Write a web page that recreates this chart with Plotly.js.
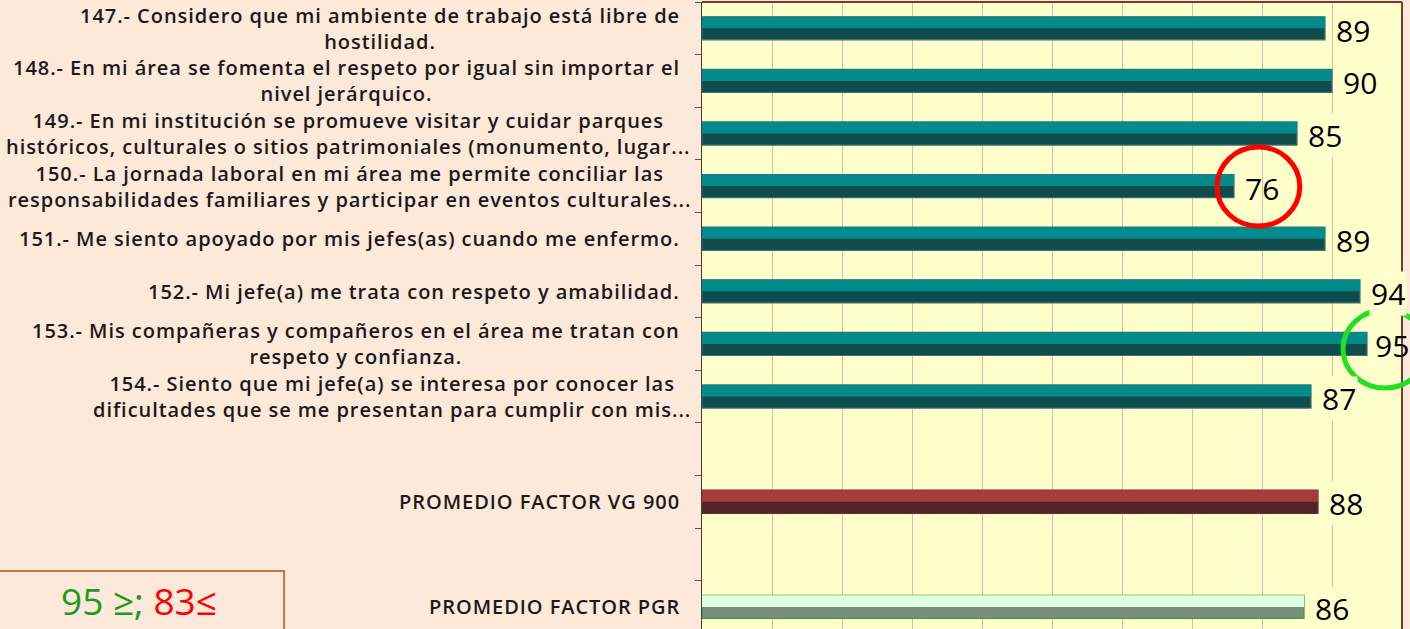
<!DOCTYPE html>
<html>
<head>
<meta charset="utf-8">
<script src="https://cdn.plot.ly/plotly-3.0.1.min.js"></script>
<style>
html,body{margin:0;padding:0;background:#FDE9DA;}
#chart{width:1410px;height:629px;}
</style>
</head>
<body>
<div id="chart"></div>
<script>
// ---- data ----
const categories = ["Q147","Q148","Q149","Q150","Q151","Q152","Q153","Q154","gap1","VG900","gap2","PGR"];
const labels = [
  "147.- Considero que mi ambiente de trabajo está libre de<br>hostilidad.",
  "148.- En mi área se fomenta el respeto por igual sin importar el<br>nivel jerárquico.",
  "149.- En mi institución se promueve visitar y cuidar parques<br>históricos, culturales o sitios patrimoniales (monumento, lugar...",
  "150.- La jornada laboral en mi área me permite conciliar las<br>responsabilidades familiares y participar en eventos culturales...",
  "151.- Me siento apoyado por mis jefes(as) cuando me enfermo.",
  "152.- Mi jefe(a) me trata con respeto y amabilidad.",
  "153.- Mis compañeras y compañeros en el área me tratan con<br>respeto y confianza.",
  "154.- Siento que mi jefe(a) se interesa por conocer las<br>dificultades que se me presentan para cumplir con mis...",
  "",
  "PROMEDIO FACTOR VG 900",
  "",
  "PROMEDIO FACTOR PGR"
];
const values = [89, 90, 85, 76, 89, 94, 95, 87, null, 88, null, 86];
const kinds  = ["q","q","q","q","q","q","q","q","gap","vg","gap","pgr"];
const circled = ["Q150","Q153"];
const thresholdHigh = 95;
const thresholdLow = 83;

// ---- styles ----
const palette = {
  q:   {top:"#038B8C", bottom:"#0E4C4D", line:"#3F6F70"},
  vg:  {top:"#A43C3C", bottom:"#532425", line:"#6B2C2C"},
  pgr: {top:"#DFFFDF", bottom:"#778F78", line:"#3C9C3C"},
  gap: {top:"rgba(0,0,0,0)", bottom:"rgba(0,0,0,0)", line:"rgba(0,0,0,0)"}
};
const BAR_W = 0.44;

const traceBottom = {
  type:"bar", orientation:"h", y:categories, x:values,
  width:BAR_W,
  marker:{color:kinds.map(k=>palette[k].bottom), line:{color:kinds.map(k=>palette[k].line), width:1.2}},
  hoverinfo:"skip", showlegend:false
};
const traceTop = {
  type:"bar", orientation:"h", y:categories, x:values,
  width:BAR_W/2, offset:-BAR_W/2,
  marker:{color:kinds.map(k=>palette[k].top), line:{width:0}},
  hoverinfo:"skip", showlegend:false
};

function spaced(t){
  return t.split("<br>").map(l=>"<span style='letter-spacing:0.95px'>"+l+"</span>").join("<br>");
}

const annotations = [];
categories.forEach((c,i)=>{
  if (labels[i]) {
    const truncated = labels[i].endsWith("...");
    annotations.push({
      xref:"paper", x:-0.028, xanchor:"right", xshift: truncated ? 11 : 0,
      yref:"y", y:c, yanchor:"middle",
      text:spaced(labels[i]), align:"center", showarrow:false,
      font:{family:"Open Sans", size:20, color:"#1A1A1A", weight:600}
    });
  }
  if (values[i] !== null) {
    const room = (100 - values[i]) * 7 + 8 - 37;
    annotations.push({
      xref:"x", x:values[i], xanchor:"left", xshift:Math.min(9, room), yref:"y", y:c, yanchor:"middle", yshift:-2,
      text:String(values[i]), showarrow:false,
      bgcolor: circled.includes(c) ? "rgba(0,0,0,0)" : "#FFFFCC", borderpad:1,
      font:{family:"Open Sans", size:30, color:"#000000"}
    });
  }
});
annotations.push({
  xref:"paper", x:-0.804, xanchor:"center", yref:"paper", y:0.046, yanchor:"middle",
  text:"<span style='color:#1E9A1E'>" + thresholdHigh + " ≥;</span> <span style='color:#FF0000'>" + thresholdLow + "≤</span>",
  showarrow:false, borderpad:0, font:{family:"Open Sans", size:37, weight:500}
});

const layout = {
  width:1410, height:629,
  margin:{l:702, r:8, t:2, b:0, pad:0},
  paper_bgcolor:"#FDE9DA", plot_bgcolor:"#FFFFCC",
  barmode:"overlay",
  xaxis:{range:[0,100], dtick:10, showgrid:true, gridcolor:"#E8B8AA", gridwidth:1,
         zeroline:false, showticklabels:false, ticks:"", showline:false},
  yaxis:{type:"category", categoryorder:"array", categoryarray:categories,
         range:[11.42,-0.5], showticklabels:false, ticks:"outside", ticklen:6,
         tickcolor:"#555555", tickson:"boundaries", showgrid:false, zeroline:false,
         showline:true, linecolor:"#404040", linewidth:1.5},
  shapes:[
    {type:"line", xref:"paper", yref:"paper", x0:0, x1:1, y0:1, y1:1, line:{color:"#7A3A2C", width:2}},
    {type:"line", xref:"paper", yref:"paper", x0:1, x1:1, y0:0, y1:1, line:{color:"#7A3A2C", width:2}},
    {type:"circle", xref:"paper", yref:"paper", x0:0.7357, x1:0.854, y0:0.6427, y1:0.7687,
     line:{color:"#FF0000", width:5}},
    {type:"circle", xref:"paper", yref:"paper", x0:0.9157, x1:1.0357, y0:0.3844, y1:0.5088,
     line:{color:"#22E022", width:5}},
    {type:"rect", xref:"paper", yref:"paper", x0:-1.01, x1:-0.597, y0:-0.1, y1:0.0925,
     line:{color:"#C8763D", width:2}}
  ],
  annotations:annotations
};

Plotly.newPlot("chart", [traceBottom, traceTop], layout, {staticPlot:true, displayModeBar:false});
</script>
</body>
</html>
